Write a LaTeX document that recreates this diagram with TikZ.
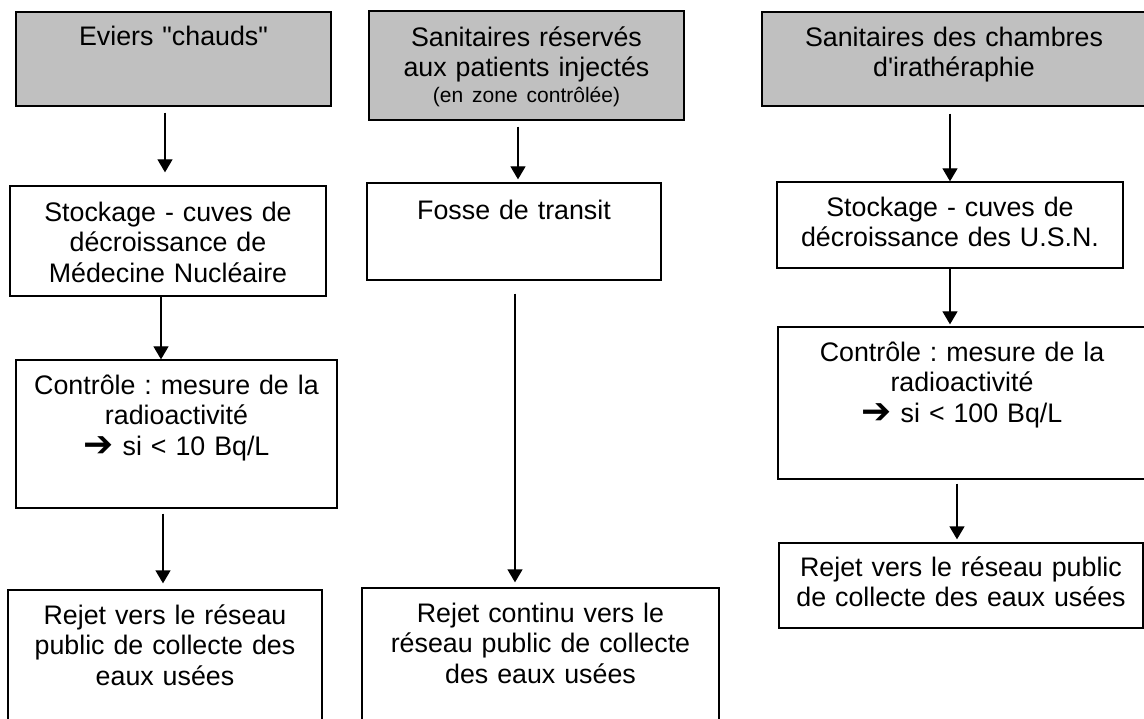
\documentclass[tikz,border=0pt]{standalone}
\usepackage{fontspec}
\setmainfont{Liberation Sans}
\newfontfamily\dejavu{DejaVu Sans}
\usetikzlibrary{arrows.meta}
\definecolor{hdrgray}{RGB}{192,192,192}
\frenchspacing
\newcommand{\heavyarrow}{\raisebox{-1pt}{\dejavu\bfseries\fontsize{36}{30}\selectfont ➔}}
\begin{document}
\begin{tikzpicture}[x=1pt,y=-1pt,
  procbox/.style={draw=black, line width=1.3pt, fill=white, rectangle, inner sep=0pt},
  headbox/.style={procbox, fill=hdrgray},
  lbl/.style={anchor=base, inner sep=0pt, align=center, font=\fontsize{26.8}{30.5}\selectfont},
  flow/.style={line width=1.3pt, -{Triangle[width=15pt,length=13pt]}}]
\useasboundingbox (0,0) rectangle (1144,719);
\clip (0,0) rectangle (1144,719);
\fill[white] (0,0) rectangle (1144,719);

% column 1
\node[headbox, minimum width=315pt, minimum height=94pt] (A1) at (173.5,59) {};
\node[procbox, minimum width=316pt, minimum height=110pt] (A2) at (168,241) {};
\node[procbox, minimum width=321pt, minimum height=148pt] (A3) at (176.5,434) {};
\node[procbox, minimum width=314pt, minimum height=170pt] (A4) at (165,675) {};
\node[lbl, text width=315pt] (tA1) at ([yshift=-34pt]A1.north) {Eviers \textquotedbl chauds\textquotedbl};
\node[lbl, text width=316pt] (tA2) at ([yshift=-36pt]A2.north) {Stockage - cuves de\\d\'ecroissance de\\M\'edecine Nucl\'eaire};
\node[lbl, text width=321pt] (tA3) at ([yshift=-35pt]A3.north) {Contrôle : mesure de la\\radioactivité\\\heavyarrow{} si < 10 Bq/L};
\node[lbl, text width=314pt] (tA4) at ([yshift=-35pt]A4.north) {Rejet vers le réseau\\public de collecte des\\eaux usées};

% column 2
\node[headbox, minimum width=315pt, minimum height=109pt] (B1) at (526.5,65.5) {};
\node[procbox, minimum width=294pt, minimum height=97pt] (B2) at (514,231.5) {};
\node[procbox, minimum width=357pt, minimum height=172pt] (B3) at (540.5,674) {};
\node[lbl, text width=315pt] (tB1) at ([yshift=-36pt]B1.north) {Sanitaires réservés\\aux patients injectés\\[-5pt]{\fontsize{21}{25}\selectfont (en zone contrôlée)}};
\node[lbl, text width=294pt] (tB2) at ([yshift=-37pt]B2.north) {Fosse de transit};
\node[lbl, text width=357pt] (tB3) at ([yshift=-35pt]B3.north) {Rejet continu vers le\\réseau public de collecte\\des eaux usées};

% column 3
\node[headbox, minimum width=384pt, minimum height=94pt] (C1) at (954,59) {};
\node[procbox, minimum width=346pt, minimum height=86pt] (C2) at (950,225) {};
\node[procbox, minimum width=368pt, minimum height=152pt] (C3) at (962,403) {};
\node[procbox, minimum width=364pt, minimum height=85pt] (C4) at (961,585.5) {};
\node[lbl, text width=384pt] (tC1) at ([yshift=-35pt]C1.north) {Sanitaires des chambres\\d\textquotesingle irathéraphie};
\node[lbl, text width=346pt] (tC2) at ([yshift=-35pt]C2.north) {Stockage - cuves de\\décroissance des U.S.N.};
\node[lbl, text width=368pt] (tC3) at ([yshift=-35pt]C3.north) {Contrôle : mesure de la\\radioactivité\\\heavyarrow{} si < 100 Bq/L};
\node[lbl, text width=364pt] (tC4) at ([yshift=-34pt]C4.north) {Rejet vers le réseau public\\de collecte des eaux usées};

% connectors
\draw[flow] ([xshift=-8.5pt,yshift=-6pt]A1.south) -- ([xshift=-3pt,yshift=13pt]A2.north);
\draw[flow] ([xshift=-7pt]A2.south) -- ([xshift=-15.5pt]A3.north);
\draw[flow] ([xshift=-13.5pt,yshift=-5pt]A3.south) -- ([xshift=-2pt,yshift=6pt]A4.north);
\draw[flow] ([xshift=-8.5pt,yshift=-6pt]B1.south) -- ([xshift=4pt,yshift=3pt]B2.north);
\draw[flow] ([xshift=1pt,yshift=-13pt]B2.south) -- ([xshift=-25.5pt,yshift=5pt]B3.north);
\draw[flow] ([xshift=-4pt,yshift=-7pt]C1.south) -- (C2.north);
\draw[flow] (C2.south) -- ([xshift=-12pt,yshift=2pt]C3.north);
\draw[flow] ([xshift=-5pt,yshift=-4pt]C3.south) -- ([xshift=-4pt,yshift=3pt]C4.north);
\end{tikzpicture}
\end{document}
